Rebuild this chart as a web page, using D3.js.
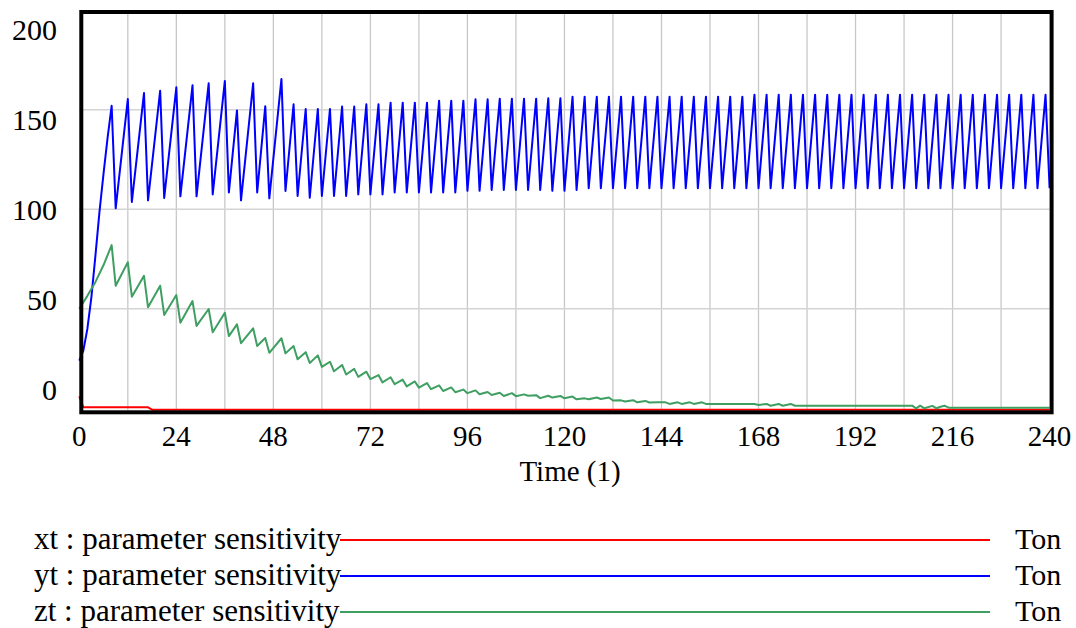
<!DOCTYPE html>
<html>
<head>
<meta charset="utf-8">
<script src="https://cdn.jsdelivr.net/npm/d3@7"></script>
<style>
	body { margin: 0; background: #fff; }
</style>
</head>
<body>
<div id="chart"></div>
<script>
// time axis / value axis labels
var timeTicks = [0, 24, 48, 72, 96, 120, 144, 168, 192, 216, 240];
var valueTicks = [0, 50, 100, 150, 200];
var seriesNames = ["xt : parameter sensitivity", "yt : parameter sensitivity", "zt : parameter sensitivity"];
var seriesUnits = ["Ton", "Ton", "Ton"];
var seriesColors = ["#ff0000", "#0000ff", "#3f9f62"];

// [time, value] turning points
var xtPoints = [[0, 6], [1, 0.5], [17, 0.5], [18, -0.7], [240, -0.7]];

var ytPoints = [[0, 24], [1, 29], [2, 40], [3, 56], [4, 77], [5, 99], [6, 118], [7, 136], [8, 152],
	[9, 100.5], [12, 155.4], [13, 103.7], [16, 158.4], [17, 104.5], [20, 159.6], [21, 105.7],
	[24, 161.3], [25, 106.5], [28, 162.3], [29, 106.5], [32, 163.3], [33, 107.5], [36, 164.5],
	[37, 108.5], [39, 149.7], [40, 104.5], [43, 163.3], [44, 108.5], [46, 151.8], [47, 105.5],
	[50, 165.5], [51, 109.2], [53, 152.8], [54, 106.7], [56, 150.4], [57, 105.8], [59, 150.4],
	[60, 106.7], [62, 150.4], [63, 106.7], [65, 151.6], [66, 106.7], [68, 151.6], [69, 107.5],
	[71, 152.8], [72, 107.5], [74, 152.8], [75, 107.5], [77, 153.6], [78, 108.5], [80, 153.6],
	[81, 108.5], [83, 153.6], [84, 108.5], [86, 153.6], [87, 108.5], [89, 154.6], [90, 108.5],
	[92, 154.6], [93, 108.5], [95, 154.6], [96, 109.3], [98, 155.3], [99, 109.3], [101, 155.3],
	[102, 109.7], [104, 155.6], [105, 109.7], [107, 155.6], [108, 109.7], [110, 155.6], [111, 109.7],
	[113, 155.6], [114, 109.7], [116, 155.8], [117, 109.3], [119, 155.8], [120, 109.3], [122, 156.6],
	[123, 109.7], [125, 156.6], [126, 110.6], [128, 156.6], [129, 110.6], [131, 156.6], [132, 110.6],
	[134, 156.6], [135, 110.6], [137, 156.6], [138, 110.6], [140, 156.6], [141, 110.6], [143, 156.6],
	[144, 110.6], [146, 156.6], [147, 110.6], [149, 156.6], [150, 110.6], [152, 156.6], [153, 110.6],
	[155, 156.6], [156, 110.6], [158, 156.6], [159, 110.6], [161, 156.6], [162, 110.6], [164, 156.6],
	[165, 110.6], [167, 157.6], [168, 110.6], [170, 157.6], [171, 110.6], [173, 157.6], [174, 110.6],
	[176, 157.6], [177, 110.6], [179, 157.6], [180, 110.6], [182, 157.6], [183, 110.6], [185, 157.6],
	[186, 110.6], [188, 157.6], [189, 110.6], [191, 157.6], [192, 110.6], [194, 157.6], [195, 110.6],
	[197, 157.6], [198, 110.6], [200, 157.6], [201, 110.6], [203, 157.6], [204, 110.6], [206, 157.6],
	[207, 110.6], [209, 157.6], [210, 110.6], [212, 157.6], [213, 110.6], [215, 157.6], [216, 110.6],
	[218, 157.6], [219, 110.6], [221, 157.6], [222, 110.6], [224, 157.6], [225, 110.6], [227, 157.6],
	[228, 110.6], [230, 157.6], [231, 110.6], [233, 157.6], [234, 110.6], [236, 157.6], [237, 110.6],
	[239, 157.6], [240, 110.6]];

var ztPoints = [[0, 50], [2, 56.5], [4, 63.5], [6, 72], [8, 82], [9, 61.6], [12, 73.4], [13, 56.1],
	[16, 66.6], [17, 50.8], [20, 61.6], [21, 46.9], [24, 56.9], [25, 43], [28, 53.9], [29, 41.4],
	[32, 49.9], [33, 38.2], [36, 48], [37, 36.3], [39, 42.2], [40, 32.7], [43, 40.2], [44, 31.3],
	[46, 35.3], [47, 27.9], [50, 35.2], [51, 27.6], [53, 31.3], [54, 24.6], [56, 28.2], [57, 22.8],
	[59, 26.6], [60, 20.8], [62, 23.4], [63, 18.6], [65, 21.8], [66, 17], [68, 19.8], [69, 15.8],
	[71, 18.4], [72, 14.7], [74, 16.7], [75, 13], [77, 15.6], [78, 12.1], [80, 14.4], [81, 11],
	[83, 13.5], [84, 10.4], [86, 12.7], [87, 9.6], [89, 11.5], [90, 8.7], [92, 10.5], [93, 8.1],
	[95, 9.4], [96, 7.6], [98, 9], [99, 7.1], [101, 8.2], [102, 6.7], [104, 7.8], [105, 6.2],
	[107, 7.6], [108, 6.1], [110, 7], [111, 6.3], [113, 6.6], [114, 5.1], [116, 6.3], [117, 5.4],
	[119, 6.2], [120, 5], [122, 5.9], [123, 4.5], [125, 5], [126, 4.5], [128, 5.4], [129, 4.7],
	[131, 5.4], [132, 3.9], [134, 4], [135, 3.4], [137, 4.1], [138, 3], [140, 3.7], [141, 2.9],
	[143, 3], [145, 3], [146, 2.2], [148, 3], [149, 2.2], [151, 3], [152, 2.2], [154, 3], [155, 2.2],
	[167, 2.2], [168, 1.7], [170, 2.2], [171, 1.3], [173, 2.2], [174, 1.3], [176, 2.2], [177, 1.3],
	[206, 1.3], [207, 0], [208, 1.3], [209, 0], [211, 1.2], [212, 0], [213, 0.8], [214, 1.3],
	[215, 0.3], [240, 0.3]];

var seriesPoints = [xtPoints, ytPoints, ztPoints];

var W = 1076, H = 628;
var plot = { left: 79.3, right: 1049.6, top: 10.3, bottom: 408.3 };
var serif = "'Liberation Serif', 'Times New Roman', 'DejaVu Serif', serif";

var svg = d3.select("#chart").append("svg")
	.attr("width", W).attr("height", H)
	.attr("font-family", serif);

var x = d3.scaleLinear().domain([0, 240]).range([plot.left, plot.right]);
var y = d3.scaleLinear().domain([0, 200]).range([plot.bottom, plot.top]);
// the value labels sit on a slightly tighter spacing than the grid
var yLabel = d3.scaleLinear().domain([0, 200]).range([400, 40]);

// grid
svg.append("g").selectAll("line").data(d3.range(12, 240, 12)).enter()
	.append("line")
	.attr("x1", function(d) { return x(d); }).attr("x2", function(d) { return x(d); })
	.attr("y1", plot.top).attr("y2", plot.bottom + 2)
	.attr("stroke", "#c8c8c8").attr("stroke-width", 1.3);
svg.append("g").selectAll("line").data([50, 100, 150]).enter()
	.append("line")
	.attr("x1", plot.left).attr("x2", plot.right)
	.attr("y1", function(d) { return y(d); }).attr("y2", function(d) { return y(d); })
	.attr("stroke", "#d4d4d4").attr("stroke-width", 1.5);

// series
var line = d3.line()
	.x(function(d) { return x(d[0]); })
	.y(function(d) { return y(d[1]); });

svg.append("g").selectAll("path").data(seriesPoints).enter()
	.append("path")
	.attr("d", line)
	.attr("fill", "none")
	.attr("stroke", function(d, i) { return seriesColors[i]; })
	.attr("stroke-width", 2)
	.attr("stroke-linejoin", "round");

// frame
svg.append("rect")
	.attr("x", plot.left + 2).attr("y", plot.top + 1.7)
	.attr("width", plot.right - plot.left).attr("height", plot.bottom - plot.top + 2.3)
	.attr("fill", "none").attr("stroke", "#000").attr("stroke-width", 4);

// tick labels
svg.append("g").selectAll("text").data(valueTicks).enter()
	.append("text").text(function(d) { return d; })
	.attr("x", 57).attr("y", function(d) { return yLabel(d); })
	.attr("text-anchor", "end").attr("font-size", "30px");

svg.append("g").selectAll("text").data(timeTicks).enter()
	.append("text").text(function(d) { return d; })
	.attr("x", function(d) { return x(d); }).attr("y", 446)
	.attr("text-anchor", "middle").attr("font-size", "29px");

svg.append("text").text("Time (1)")
	.attr("x", 570).attr("y", 481)
	.attr("text-anchor", "middle").attr("font-size", "29px");

// legend
var legendY = d3.scaleLinear().domain([0, 2]).range([540, 612]);
var legend = svg.append("g").selectAll("g").data(seriesNames).enter().append("g");
legend.append("line")
	.attr("x1", 340).attr("x2", 990)
	.attr("y1", function(d, i) { return legendY(i); })
	.attr("y2", function(d, i) { return legendY(i); })
	.attr("stroke", function(d, i) { return seriesColors[i]; })
	.attr("stroke-width", 2);
legend.append("text").text(function(d) { return d; })
	.attr("x", 34).attr("y", function(d, i) { return legendY(i) + 9; })
	.attr("font-size", "31px");
legend.append("text").text(function(d, i) { return seriesUnits[i]; })
	.attr("x", 1015).attr("y", function(d, i) { return legendY(i) + 9; })
	.attr("font-size", "30px");
</script>
</body>
</html>
